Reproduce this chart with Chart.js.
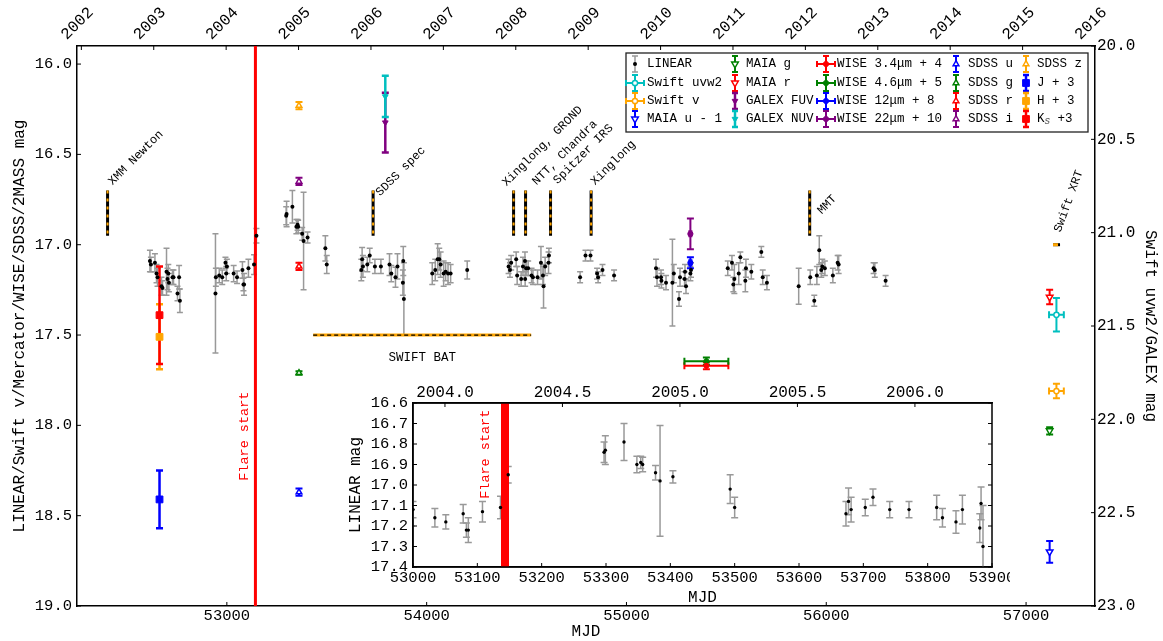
<!DOCTYPE html>
<html>
<head>
<meta charset="utf-8">
<script src="https://cdn.jsdelivr.net/npm/chart.js@4.4.1/dist/chart.umd.min.js"></script>
<style>
  body { margin: 0; background: #fff; }
  #wrap { position: relative; width: 1163px; height: 641px; }
  #main { position: absolute; left: 0; top: 0; }
  #inset { position: absolute; left: 340px; top: 375px; }
</style>
</head>
<body>
<div id="wrap">
  <canvas id="main" width="1163" height="641"></canvas>
  <canvas id="inset" width="670" height="235"></canvas>
</div>
<script>
// ---------------- data ----------------
const LINEAR_MJD = [
  52615, 52620, 52640, 52648, 52653, 52673, 52678, 52698, 52703, 52707, 52710, 52728, 52733, 52753, 52761, 52765,
  52943, 52945, 52962, 52977, 52993, 52997,
  53000, 53034, 53051, 53078, 53083, 53086, 53108, 53136, 53148,
  53297, 53299, 53328, 53348, 53354, 53357, 53377, 53384, 53404, 53493, 53500,
  53673, 53677, 53681, 53703, 53715, 53741, 53771, 53814, 53823, 53844, 53854, 53881, 53883, 53886,
  54028, 54043, 54055, 54063, 54070, 54085, 54095, 54107, 54120, 54203,
  54410, 54417, 54423, 54448, 54453, 54473, 54482, 54492, 54493, 54498, 54508, 54525, 54532, 54555, 54572, 54582, 54585, 54593, 54610, 54612,
  54768, 54795, 54820, 54853, 54858, 54880, 54938,
  55148, 55153, 55173, 55175, 55198, 55230, 55237, 55263, 55268, 55291, 55293, 55298, 55320, 55323,
  55507, 55528, 55535, 55540, 55562, 55570, 55595, 55598, 55625, 55675, 55682, 55703,
  55862, 55920, 55940, 55953, 55965, 55975, 55980, 55993, 56033, 56057, 56062,
  56237, 56243, 56297
];
const LINEAR_MAG = [
  17.09, 17.11, 17.10, 17.16, 17.18, 17.23, 17.24, 17.15, 17.19, 17.16, 17.21, 17.18, 17.18, 17.27, 17.18, 17.31,
  17.27, 17.18, 17.17, 17.18, 17.10, 17.16,
  17.12, 17.16, 17.18, 17.14, 17.22, 17.22, 17.13, 17.11, 16.95,
  16.84, 16.83, 16.79, 16.90, 16.89, 16.90, 16.94, 16.98, 16.96, 17.02, 17.11,
  17.14, 17.08, 17.12, 17.11, 17.06, 17.12, 17.12, 17.11, 17.16, 17.18, 17.12, 17.21, 17.09, 17.30,
  17.16, 17.14, 17.08, 17.08, 17.11, 17.16, 17.15, 17.16, 17.16, 17.14,
  17.12, 17.14, 17.10, 17.08, 17.17, 17.19, 17.12, 17.09, 17.19, 17.13, 17.13, 17.17, 17.18, 17.18, 17.10, 17.17, 17.23, 17.12, 17.10, 17.06,
  17.18, 17.06, 17.06, 17.16, 17.18, 17.14, 17.17,
  17.13, 17.18, 17.18, 17.20, 17.21, 17.21, 17.16, 17.30, 17.18, 17.19, 17.15, 17.23, 17.16, 17.14,
  17.13, 17.10, 17.22, 17.19, 17.16, 17.07, 17.20, 17.13, 17.15, 17.04, 17.18, 17.21,
  17.23, 17.18, 17.31, 17.17, 17.03, 17.14, 17.12, 17.13, 17.17, 17.10, 17.11,
  17.13, 17.14, 17.20
];
const LINEAR_ERR = [
  0.06, 0.04, 0.05, 0.05, 0.05, 0.05, 0.04, 0.13, 0.06, 0.05, 0.05, 0.04, 0.04, 0.04, 0.065, 0.065,
  0.33, 0.05, 0.04, 0.04, 0.03, 0.04,
  0.04, 0.045, 0.035, 0.045, 0.035, 0.06, 0.05, 0.055, 0.04,
  0.05, 0.07, 0.09, 0.04, 0.03, 0.035, 0.035, 0.27, 0.03, 0.07, 0.05,
  0.06, 0.065, 0.06, 0.04, 0.04, 0.04, 0.04, 0.06, 0.045, 0.055, 0.07, 0.07, 0.08, 0.20,
  0.06, 0.06, 0.085, 0.06, 0.07, 0.07, 0.05, 0.06, 0.05, 0.05,
  0.04, 0.04, 0.04, 0.04, 0.05, 0.04, 0.05, 0.05, 0.04, 0.04, 0.04, 0.04, 0.04, 0.04, 0.09, 0.05, 0.12, 0.05, 0.06, 0.04,
  0.03, 0.03, 0.03, 0.03, 0.03, 0.03, 0.03,
  0.05, 0.05, 0.04, 0.04, 0.04, 0.24, 0.05, 0.04, 0.05, 0.04, 0.04, 0.04, 0.04, 0.04,
  0.04, 0.04, 0.04, 0.08, 0.06, 0.03, 0.06, 0.05, 0.04, 0.03, 0.04, 0.04,
  0.10, 0.04, 0.03, 0.05, 0.08, 0.04, 0.04, 0.04, 0.04, 0.04, 0.05,
  0.03, 0.04, 0.03
];

// SDSS u g r i z (one epoch)
const SDSS_MJD = 53361;
const SDSS_MAG = [18.37, 17.71, 17.12, 16.65, 16.23];
const SDSS_ERR = [0.02, 0.01, 0.02, 0.02, 0.02];

// 2MASS J+3, H+3, Ks+3
const TMASS_MJD = 52663;
const TMASS_MAG = [18.41, 17.51, 17.39];
const TMASS_ERR = [0.16, 0.18, 0.27];

// GALEX FUV, NUV (right axis)
const GALEX_MJD = 53793;
const GALEX_MAG = [20.41, 20.27];
const GALEX_ERR = [0.16, 0.11];

// WISE 3.4, 4.6, 12, 22 micron (shifted)
const WISE_MJD = [55400, 55400, 55320, 55320];
const WISE_MJD_ERR = [110, 110, 5, 5];
const WISE_MAG = [17.67, 17.645, 17.10, 16.94];
const WISE_ERR = [0.02, 0.02, 0.03, 0.085];

// Swift UVOT
const SWIFT_MJD = [57152];
const SWIFT_MJD_ERR = [37];
const SWIFT_UVW2 = [21.44];   // right axis
const SWIFT_UVW2_ERR = [0.09];
const SWIFT_V = [17.81];
const SWIFT_V_ERR = [0.04];

// MAIA u-1, g, r
const MAIA_MJD = 57118;
const MAIA_MAG = [18.70, 18.03, 17.29];
const MAIA_ERR = [0.06, 0.02, 0.04];

// events
const FLARE_START = 53143;
const EVENT_NAMES = ['XMM Newton', 'SDSS spec', 'Xinglong, GROND', 'NTT, Chandra', 'Spitzer IRS', 'Xinglong', 'MMT'];
const EVENT_MJD = [52403, 53732, 54435, 54495, 54620, 54823, 55917];
const EVENT_MAG = [16.7, 16.95];
const BAT_MJD = [53432, 54523];
const BAT_MAG = 17.5;
const XRT_MJD = [57135, 57170];
const XRT_MAG = 17.0;

// axes
const MJD_MIN = 52250, MJD_MAX = 57345;
const YEAR_MIN = 2001.94, YEAR_MAX = 2016.0;
const MAG_MIN = 15.9, MAG_MAX = 19.0;
const MAG2_MIN = 20.0, MAG2_MAX = 23.0;
const MJD_TICKS = [53000, 54000, 55000, 56000, 57000];
const YEAR_TICKS = [2002, 2003, 2004, 2005, 2006, 2007, 2008, 2009, 2010, 2011, 2012, 2013, 2014, 2015, 2016];
const MAG_TICKS = [16.0, 16.5, 17.0, 17.5, 18.0, 18.5, 19.0];
const MAG2_TICKS = [20.0, 20.5, 21.0, 21.5, 22.0, 22.5, 23.0];

const INSET_MJD_MIN = 53000, INSET_MJD_MAX = 53900;
const INSET_YEAR_MIN = 2003.864, INSET_YEAR_MAX = 2006.328;
const INSET_MAG_MIN = 16.6, INSET_MAG_MAX = 17.4;
const INSET_MJD_TICKS = [53000, 53100, 53200, 53300, 53400, 53500, 53600, 53700, 53800, 53900];
const INSET_YEAR_TICKS = [2004.0, 2004.5, 2005.0, 2005.5, 2006.0];
const INSET_MAG_TICKS = [16.6, 16.7, 16.8, 16.9, 17.0, 17.1, 17.2, 17.3, 17.4];

const LEGEND_ORDER = [
  'LINEAR', 'Swift uvw2', 'Swift v', 'MAIA u - 1',
  'MAIA g', 'MAIA r', 'GALEX FUV', 'GALEX NUV',
  'WISE 3.4\u03bcm + 4', 'WISE 4.6\u03bcm + 5', 'WISE 12\u03bcm + 8', 'WISE 22\u03bcm + 10',
  'SDSS u', 'SDSS g', 'SDSS r', 'SDSS i',
  'SDSS z', 'J + 3', 'H + 3', 'K_S +3'
];

// ---------------- styling helpers ----------------
const MONO = '"Liberation Mono", "DejaVu Sans Mono", monospace';
Chart.defaults.font.family = MONO;
Chart.defaults.color = '#000';

const COL = {
  black: '#000000', gray: '#999999', cyan: '#00bfbf', orange: '#ffa500',
  blue: '#0000ff', green: '#008000', red: '#ff0000', purple: '#800080'
};

const pts = (xs, ys) => xs.map((x, i) => ({ x, y: ys[i] }));

function marker(label, xs, ys, style) {
  return Object.assign({ label, data: pts(xs, ys), showLine: false, order: 0 }, style);
}
function openMark(color, shape, rot, r) {
  return { pointStyle: shape, pointRotation: rot, pointRadius: r, pointBackgroundColor: '#ffffff',
           pointBorderColor: color, pointBorderWidth: 1.5, errColor: color, errWidth: 2, capSize: 3.5 };
}
function fullMark(color, shape, rot, r) {
  return { pointStyle: shape, pointRotation: rot, pointRadius: r, pointBackgroundColor: color,
           pointBorderColor: color, pointBorderWidth: 1, errColor: color, errWidth: 2, capSize: 3.5 };
}
function segment(data, color, width, dash, order) {
  return { label: '', data, showLine: true, borderColor: color, borderWidth: width,
           borderDash: dash || [], pointRadius: 0, order, fill: false };
}

function fixedTicks(values) {
  return scale => { scale.ticks = values.map(v => ({ value: v })); };
}
function fixedSize(prop, size) {
  return scale => {
    scale[prop] = size;
    scale.paddingLeft = scale.paddingRight = scale.paddingTop = scale.paddingBottom = 0;
  };
}
const AXIS_BORDER = { display: true, color: '#000', width: 1.5 };
const NO_GRID = { display: false, drawTicks: false };

// error bars drawn under the markers
const errorBars = {
  id: 'errorBars',
  beforeDatasetsDraw(chart) {
    const ctx = chart.ctx, a = chart.chartArea;
    ctx.save();
    ctx.beginPath();
    ctx.rect(a.left, a.top, a.right - a.left, a.bottom - a.top);
    ctx.clip();
    chart.data.datasets.forEach((ds, i) => {
      if (!ds.yErr && !ds.xErr) return;
      const meta = chart.getDatasetMeta(i);
      const xs = meta.xScale, ys = meta.yScale;
      const cap = ds.capSize || 3;
      ctx.strokeStyle = ds.errColor;
      ctx.lineWidth = ds.errWidth || 1.5;
      ds.data.forEach((p, j) => {
        const px = xs.getPixelForValue(p.x), py = ys.getPixelForValue(p.y);
        ctx.beginPath();
        if (ds.yErr) {
          const y1 = ys.getPixelForValue(p.y - ds.yErr[j]);
          const y2 = ys.getPixelForValue(p.y + ds.yErr[j]);
          ctx.moveTo(px, y1); ctx.lineTo(px, y2);
          ctx.moveTo(px - cap, y1); ctx.lineTo(px + cap, y1);
          ctx.moveTo(px - cap, y2); ctx.lineTo(px + cap, y2);
        }
        if (ds.xErr) {
          const x1 = xs.getPixelForValue(p.x - ds.xErr[j]);
          const x2 = xs.getPixelForValue(p.x + ds.xErr[j]);
          ctx.moveTo(x1, py); ctx.lineTo(x2, py);
          ctx.moveTo(x1, py - cap); ctx.lineTo(x1, py + cap);
          ctx.moveTo(x2, py - cap); ctx.lineTo(x2, py + cap);
        }
        ctx.stroke();
      });
    });
    ctx.restore();
  }
};

// small ticks pointing into the plot area
function innerTicks(specs) {
  return {
    id: 'innerTicks',
    afterDatasetsDraw(chart) {
      const ctx = chart.ctx, a = chart.chartArea;
      ctx.save();
      ctx.strokeStyle = '#000';
      ctx.lineWidth = 1;
      specs.forEach(([id, side, len]) => {
        const s = chart.scales[id];
        s.ticks.forEach(t => {
          const p = s.getPixelForValue(t.value);
          ctx.beginPath();
          if (side === 'left') { ctx.moveTo(a.left, p); ctx.lineTo(a.left + len, p); }
          if (side === 'right') { ctx.moveTo(a.right, p); ctx.lineTo(a.right - len, p); }
          if (side === 'top') { ctx.moveTo(p, a.top); ctx.lineTo(p, a.top + len); }
          if (side === 'bottom') { ctx.moveTo(p, a.bottom); ctx.lineTo(p, a.bottom - len); }
          ctx.stroke();
        });
      });
      ctx.restore();
    }
  };
}

// frame around a plot area (the inset has no right-hand scale)
const frame = {
  id: 'frame',
  afterDraw(chart) {
    const a = chart.chartArea, ctx = chart.ctx;
    ctx.save();
    ctx.strokeStyle = '#000';
    ctx.lineWidth = 1.5;
    ctx.strokeRect(a.left, a.top, a.right - a.left, a.bottom - a.top);
    ctx.restore();
  }
};

// text annotations placed through the scales
function notes(items) {
  return {
    id: 'notes',
    afterDatasetsDraw(chart) {
      const ctx = chart.ctx;
      items.forEach(n => {
        const x = chart.scales.x.getPixelForValue(n.x) + (n.dx || 0);
        const y = chart.scales.y.getPixelForValue(n.y) + (n.dy || 0);
        ctx.save();
        ctx.translate(x, y);
        ctx.rotate((n.rot || 0) * Math.PI / 180);
        ctx.font = n.font;
        ctx.fillStyle = n.color || '#000';
        ctx.textAlign = n.align || 'left';
        ctx.textBaseline = n.baseline || 'alphabetic';
        ctx.fillText(n.text, 0, 0);
        ctx.restore();
      });
    }
  };
}

// boxed legend, 4 rows x 5 columns, upper right
const boxLegend = {
  id: 'boxLegend',
  afterDraw(chart) {
    const ctx = chart.ctx, a = chart.chartArea;
    const w = 462, h = 79;
    const bx = a.right - 7 - w, by = a.top + 7;
    const markX = [9, 109, 200, 330, 400];
    const textX = [21, 120, 211, 342, 411];
    const rowY = [11, 30, 48, 66];
    ctx.save();
    ctx.fillStyle = '#fff';
    ctx.fillRect(bx, by, w, h);
    ctx.strokeStyle = '#222';
    ctx.lineWidth = 1.3;
    ctx.strokeRect(bx, by, w, h);
    LEGEND_ORDER.forEach((label, k) => {
      const ds = chart.data.datasets.find(d => d.label === label);
      if (!ds) return;
      const c = Math.floor(k / 4), r = k % 4;
      const x = bx + markX[c], y = by + rowY[r];
      const cap = 3;
      ctx.strokeStyle = ds.errColor;
      ctx.lineWidth = ds.errWidth || 1.5;
      ctx.beginPath();
      ctx.moveTo(x, y - 8); ctx.lineTo(x, y + 8);
      ctx.moveTo(x - cap, y - 8); ctx.lineTo(x + cap, y - 8);
      ctx.moveTo(x - cap, y + 8); ctx.lineTo(x + cap, y + 8);
      if (ds.xErr) {
        ctx.moveTo(x - 9, y); ctx.lineTo(x + 9, y);
        ctx.moveTo(x - 9, y - cap); ctx.lineTo(x - 9, y + cap);
        ctx.moveTo(x + 9, y - cap); ctx.lineTo(x + 9, y + cap);
      }
      ctx.stroke();
      ctx.fillStyle = ds.pointBackgroundColor;
      ctx.strokeStyle = ds.pointBorderColor;
      ctx.lineWidth = ds.pointBorderWidth;
      Chart.helpers.drawPoint(ctx, {
        pointStyle: ds.pointStyle, radius: ds.pointRadius,
        rotation: ds.pointRotation || 0, borderWidth: ds.pointBorderWidth
      }, x, y);
      ctx.fillStyle = '#000';
      ctx.textBaseline = 'middle';
      ctx.textAlign = 'left';
      const tx = bx + textX[c];
      if (label === 'K_S +3') {
        ctx.font = '12.5px ' + MONO;
        ctx.fillText('K', tx, y);
        const kw = ctx.measureText('K').width;
        ctx.font = 'italic 9px ' + MONO;
        ctx.fillStyle = '#555';
        ctx.fillText('S', tx + kw, y + 3);
        const sw = ctx.measureText('S').width;
        ctx.fillStyle = '#000';
        ctx.font = '12.5px ' + MONO;
        ctx.fillText(' +3', tx + kw + sw, y);
      } else {
        ctx.font = '12.5px ' + MONO;
        ctx.fillText(label, tx, y);
      }
    });
    ctx.restore();
  }
};

const plotBackground = {
  id: 'plotBackground',
  beforeDraw(chart) {
    const a = chart.chartArea, ctx = chart.ctx;
    ctx.save();
    ctx.fillStyle = '#fff';
    ctx.fillRect(a.left, a.top, a.right - a.left, a.bottom - a.top);
    ctx.restore();
  }
};

// ---------------- main chart ----------------
const mainSets = [];
mainSets.push(segment([{ x: FLARE_START, y: MAG_MIN }, { x: FLARE_START, y: MAG_MAX }], COL.red, 3, null, 6));
EVENT_MJD.forEach(m => {
  const line = [{ x: m, y: EVENT_MAG[0] }, { x: m, y: EVENT_MAG[1] }];
  mainSets.push(segment(line, '#000', 3, null, 9));
  mainSets.push(segment(line, COL.orange, 2, [3, 5], 8));
});
const batLine = [{ x: BAT_MJD[0], y: BAT_MAG }, { x: BAT_MJD[1], y: BAT_MAG }];
mainSets.push(segment(batLine, COL.orange, 3, null, 9));
mainSets.push(segment(batLine, '#000', 1.2, [4, 3], 8));
const xrtLine = [{ x: XRT_MJD[0], y: XRT_MAG }, { x: XRT_MJD[1], y: XRT_MAG }];
mainSets.push(segment(xrtLine, '#000', 3, null, 9));
mainSets.push(segment(xrtLine, COL.orange, 3, [5, 5], 8));

mainSets.push(marker('LINEAR', LINEAR_MJD, LINEAR_MAG, {
  pointStyle: 'circle', pointRadius: 2, pointRotation: 0, pointBackgroundColor: '#000',
  pointBorderColor: '#000', pointBorderWidth: 0, yErr: LINEAR_ERR, errColor: COL.gray, errWidth: 1.5, capSize: 3
}));
mainSets.push(marker('Swift uvw2', SWIFT_MJD, SWIFT_UVW2, Object.assign(openMark(COL.cyan, 'circle', 0, 2.6),
  { yErr: SWIFT_UVW2_ERR, xErr: SWIFT_MJD_ERR, yAxisID: 'yR' })));
mainSets.push(marker('Swift v', SWIFT_MJD, SWIFT_V, Object.assign(openMark(COL.orange, 'circle', 0, 2.6),
  { yErr: SWIFT_V_ERR, xErr: SWIFT_MJD_ERR })));
['MAIA u - 1', 'MAIA g', 'MAIA r'].forEach((name, i) => {
  const c = [COL.blue, COL.green, COL.red][i];
  mainSets.push(marker(name, [MAIA_MJD], [MAIA_MAG[i]], Object.assign(openMark(c, 'triangle', 180, 3.8),
    { yErr: [MAIA_ERR[i]] })));
});
['GALEX FUV', 'GALEX NUV'].forEach((name, i) => {
  const c = [COL.purple, COL.cyan][i];
  mainSets.push(marker(name, [GALEX_MJD], [GALEX_MAG[i]], Object.assign(fullMark(c, 'triangle', 180, 3.3),
    { yErr: [GALEX_ERR[i]], yAxisID: 'yR', errWidth: 2.5 })));
});
['WISE 3.4\u03bcm + 4', 'WISE 4.6\u03bcm + 5', 'WISE 12\u03bcm + 8', 'WISE 22\u03bcm + 10'].forEach((name, i) => {
  const c = [COL.red, COL.green, COL.blue, COL.purple][i];
  mainSets.push(marker(name, [WISE_MJD[i]], [WISE_MAG[i]], Object.assign(fullMark(c, 'circle', 0, 2.6),
    { yErr: [WISE_ERR[i]], xErr: [WISE_MJD_ERR[i]] })));
});
['SDSS u', 'SDSS g', 'SDSS r', 'SDSS i', 'SDSS z'].forEach((name, i) => {
  const c = [COL.blue, COL.green, COL.red, COL.purple, COL.orange][i];
  mainSets.push(marker(name, [SDSS_MJD], [SDSS_MAG[i]], Object.assign(openMark(c, 'triangle', 0, 3.3),
    { yErr: [SDSS_ERR[i]] })));
});
['J + 3', 'H + 3', 'K_S +3'].forEach((name, i) => {
  const c = [COL.blue, COL.orange, COL.red][i];
  mainSets.push(marker(name, [TMASS_MJD], [TMASS_MAG[i]], Object.assign(fullMark(c, 'rect', 0, 4.8),
    { yErr: [TMASS_ERR[i]], errWidth: 2.5 })));
});

const EVENT_SHIFT = [[5, -5], [7, 6], [-7, -4], [11, -5], [7, -6], [4, -5], [12, 24]];
const mainNotes = EVENT_NAMES.map((t, i) => ({
  text: t, x: EVENT_MJD[i], y: EVENT_MAG[0], dx: EVENT_SHIFT[i][0], dy: EVENT_SHIFT[i][1],
  rot: -45, font: '12px ' + MONO
}));
mainNotes.push({ text: 'Swift XRT', x: (XRT_MJD[0] + XRT_MJD[1]) / 2, y: XRT_MAG, dx: 4, dy: -12, rot: -70, font: '12px ' + MONO });
mainNotes.push({ text: 'SWIFT BAT', x: (BAT_MJD[0] + BAT_MJD[1]) / 2, y: BAT_MAG, dy: 23, align: 'center',
  baseline: 'middle', font: '12.5px ' + MONO });
mainNotes.push({ text: 'Flare start', x: FLARE_START, y: 18.06, dx: -11, rot: -90, align: 'center',
  baseline: 'middle', color: COL.red, font: '13.5px ' + MONO });

new Chart(document.getElementById('main'), {
  type: 'scatter',
  data: { datasets: mainSets },
  plugins: [errorBars, innerTicks([['x', 'bottom', 4], ['xTop', 'top', 4], ['y', 'left', 4], ['yR', 'right', 4]]),
            notes(mainNotes), boxLegend],
  options: {
    responsive: false,
    animation: false,
    events: [],
    layout: { padding: 0 },
    plugins: { legend: { display: false }, tooltip: { enabled: false } },
    scales: {
      x: {
        type: 'linear', position: 'bottom', min: MJD_MIN, max: MJD_MAX,
        afterBuildTicks: fixedTicks(MJD_TICKS), afterFit: fixedSize('height', 35),
        grid: NO_GRID, border: AXIS_BORDER,
        ticks: { font: { size: 15.5 }, padding: 1, maxRotation: 0, autoSkip: false, callback: v => String(v) },
        title: { display: true, text: 'MJD', font: { size: 16 }, padding: { top: 0, bottom: 0 } }
      },
      xTop: {
        type: 'linear', position: 'top', min: YEAR_MIN, max: YEAR_MAX,
        afterBuildTicks: fixedTicks(YEAR_TICKS), afterFit: fixedSize('height', 46),
        grid: NO_GRID, border: AXIS_BORDER,
        ticks: { font: { size: 16 }, padding: 2, minRotation: 45, maxRotation: 45, labelOffset: -4,
                 autoSkip: false, callback: v => String(v) }
      },
      y: {
        type: 'linear', position: 'left', reverse: true, min: MAG_MIN, max: MAG_MAX,
        afterBuildTicks: fixedTicks(MAG_TICKS), afterFit: fixedSize('width', 77),
        grid: NO_GRID, border: AXIS_BORDER,
        ticks: { font: { size: 15.5 }, padding: 5, autoSkip: false, callback: v => v.toFixed(1) },
        title: { display: true, text: 'LINEAR/Swift v/Mercator/WISE/SDSS/2MASS mag', font: { size: 16 },
                 padding: { top: 10, bottom: 0 } }
      },
      yR: {
        type: 'linear', position: 'right', reverse: true, min: MAG2_MIN, max: MAG2_MAX,
        afterBuildTicks: fixedTicks(MAG2_TICKS), afterFit: fixedSize('width', 68),
        grid: NO_GRID, border: AXIS_BORDER,
        ticks: { font: { size: 16 }, padding: 2, autoSkip: false, callback: v => v.toFixed(1) },
        title: { display: true, text: 'Swift uvw2/GALEX mag', font: { size: 16 }, padding: { top: 3, bottom: 0 } }
      }
    }
  }
});

// ---------------- inset chart ----------------
const insetSets = [
  segment([{ x: FLARE_START, y: INSET_MAG_MIN }, { x: FLARE_START, y: INSET_MAG_MAX }], COL.red, 8, null, 6),
  marker('LINEAR', LINEAR_MJD, LINEAR_MAG, {
    pointStyle: 'circle', pointRadius: 1.7, pointBackgroundColor: '#000', pointBorderColor: '#000',
    pointBorderWidth: 0, yErr: LINEAR_ERR, errColor: COL.gray, errWidth: 1.5, capSize: 3.5
  })
];

new Chart(document.getElementById('inset'), {
  type: 'scatter',
  data: { datasets: insetSets },
  plugins: [plotBackground, errorBars,
            innerTicks([['x', 'bottom', 4], ['xTop', 'top', 4], ['y', 'left', 4], ['y', 'right', 4]]),
            notes([{ text: 'Flare start', x: FLARE_START, y: 16.85, dx: -20, rot: -90, align: 'center',
                     baseline: 'middle', color: COL.red, font: '13.5px ' + MONO }]),
            frame],
  options: {
    responsive: false,
    animation: false,
    events: [],
    layout: { padding: { left: 0, top: 0, bottom: 0, right: 18 } },
    plugins: { legend: { display: false }, tooltip: { enabled: false } },
    scales: {
      x: {
        type: 'linear', position: 'bottom', min: INSET_MJD_MIN, max: INSET_MJD_MAX,
        afterBuildTicks: fixedTicks(INSET_MJD_TICKS), afterFit: fixedSize('height', 43),
        grid: NO_GRID, border: AXIS_BORDER,
        ticks: { font: { size: 15.5 }, padding: 2, maxRotation: 0, autoSkip: false, callback: v => String(v) },
        title: { display: true, text: 'MJD', font: { size: 16 }, padding: { top: 0, bottom: 3 } }
      },
      xTop: {
        type: 'linear', position: 'top', min: INSET_YEAR_MIN, max: INSET_YEAR_MAX,
        afterBuildTicks: fixedTicks(INSET_YEAR_TICKS), afterFit: fixedSize('height', 28),
        grid: NO_GRID, border: AXIS_BORDER,
        ticks: { font: { size: 16 }, padding: 1, maxRotation: 0, autoSkip: false, callback: v => v.toFixed(1) }
      },
      y: {
        type: 'linear', position: 'left', reverse: true, min: INSET_MAG_MIN, max: INSET_MAG_MAX,
        afterBuildTicks: fixedTicks(INSET_MAG_TICKS), afterFit: fixedSize('width', 73),
        grid: NO_GRID, border: AXIS_BORDER,
        ticks: { font: { size: 15.5 }, padding: 5, autoSkip: false, callback: v => v.toFixed(1) },
        title: { display: true, text: 'LINEAR mag', font: { size: 16 }, padding: { top: 6, bottom: 0 } }
      }
    }
  }
});
</script>
</body>
</html>
